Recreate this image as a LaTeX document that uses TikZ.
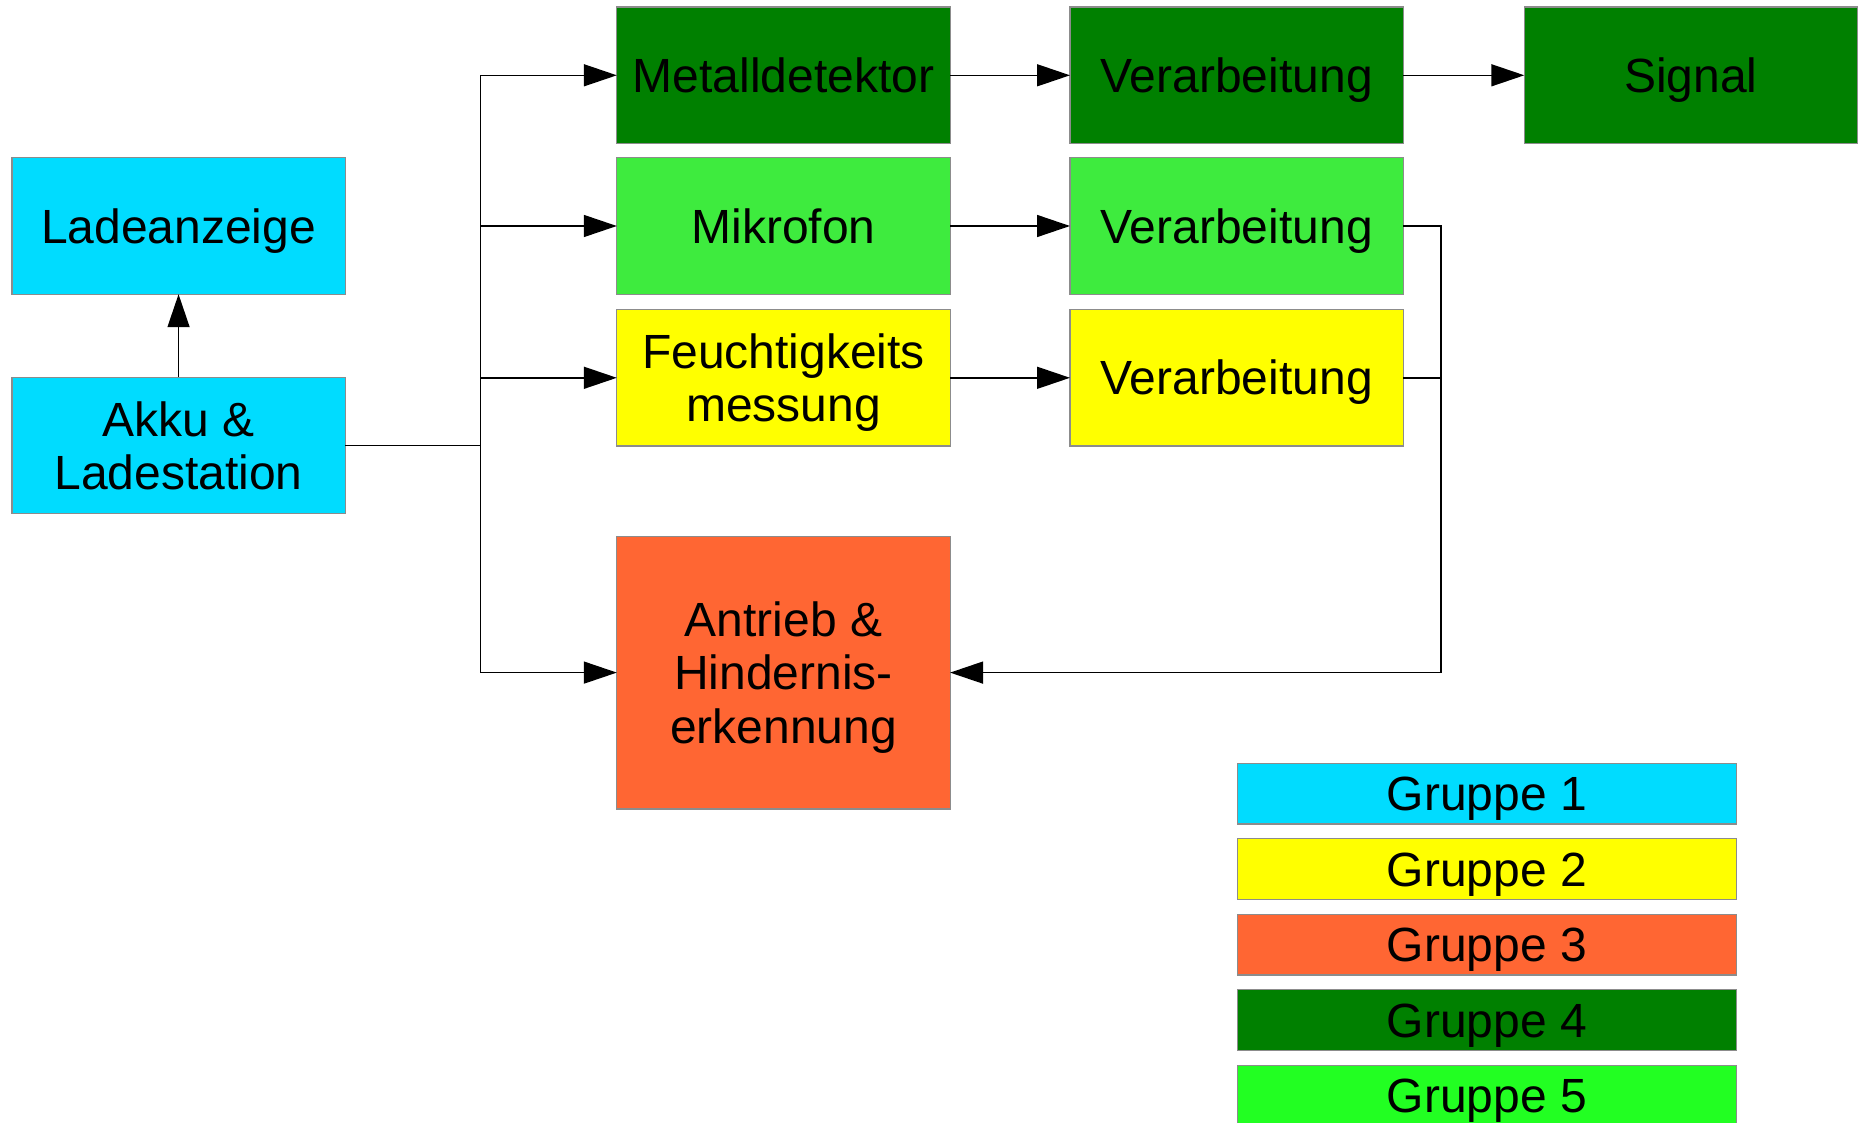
\documentclass[tikz,border=0pt]{standalone}
\usepackage{fontspec}
\setmainfont{Liberation Sans}
\usetikzlibrary{arrows.meta}
\definecolor{grpone}{RGB}{0,220,255}
\definecolor{grptwo}{RGB}{255,255,0}
\definecolor{grpthree}{RGB}{255,102,51}
\definecolor{grpfour}{RGB}{0,128,0}
\definecolor{grpfive}{RGB}{34,255,34}
\definecolor{mikgreen}{RGB}{62,235,62}
\definecolor{boxgray}{RGB}{140,140,140}
\newcommand{\lstrut}{\rule[-4.6pt]{0pt}{26.6pt}}
\newcommand{\boxfont}{\fontsize{24}{26.7}\selectfont\lineskiplimit=-100pt\relax}
\begin{document}
\begin{tikzpicture}[x=0.5pt,y=-0.5pt,
  box/.style={draw=boxgray, line width=0.6pt, minimum width=166.65pt, minimum height=68.2pt,
    inner sep=0pt, outer sep=0pt, align=center, font=\boxfont,
    execute at begin node={\lstrut}, execute at end node={\lstrut}},
  legendbox/.style={box, minimum width=249.7pt, minimum height=30.35pt},
  conn/.style={line width=0.75pt, draw=black},
  arr/.style={conn, -{Triangle[length=16.5pt,width=11pt]}}]
\useasboundingbox (0,0) rectangle (1860,1123);

% left column
\node[box, fill=grpone] (lade) at (178.55,226) {Ladeanzeige};
\node[box, fill=grpone] (akku) at (178.55,445.4) {\lstrut Akku \&\\Ladestation\lstrut};

% middle rows
\node[box, fill=grpfour] (met) at (783.45,75.3) {Metalldetektor};
\node[box, fill=grpfour] (vone) at (1236.65,75.3) {Verarbeitung};
\node[box, fill=grpfour] (sig) at (1690.95,75.3) {Signal};

\node[box, fill=mikgreen] (mik) at (783.45,226) {Mikrofon};
\node[box, fill=mikgreen] (vtwo) at (1236.65,226) {Verarbeitung};

\node[box, fill=grptwo] (feu) at (783.45,377.8) {\lstrut Feuchtigkeits\\messung\lstrut};
\node[box, fill=grptwo] (vthree) at (1236.65,377.8) {Verarbeitung};

\node[box, fill=grpthree, minimum height=136.4pt] (ant) at (783.45,672.6) {\lstrut Antrieb \&\\Hindernis-\\erkennung\lstrut};

% legend
\node[legendbox, fill=grpone] (gone) at (1487,793.7) {Gruppe 1};
\node[legendbox, fill=grptwo] (gtwo) at (1487,869.1) {Gruppe 2};
\node[legendbox, fill=grpthree] (gthree) at (1487,944.6) {Gruppe 3};
\node[legendbox, fill=grpfour] (gfour) at (1487,1020.1) {Gruppe 4};
\node[legendbox, fill=grpfive] (gfive) at (1487,1095.6) {Gruppe 5};

% connectors
\coordinate (bus) at (480.4,445.4);
\coordinate (fb) at (1441,672.6);

\draw[arr] (akku.north) -- (lade.south);
\draw[conn] (akku.east) -- (bus);
\draw[conn] (bus |- met.west) -- (bus |- ant.west);
\draw[arr] (bus |- met.west) -- (met.west);
\draw[arr] (bus |- mik.west) -- (mik.west);
\draw[arr] (bus |- feu.west) -- (feu.west);
\draw[arr] (bus |- ant.west) -- (ant.west);

\draw[arr] (met.east) -- (vone.west);
\draw[arr] (vone.east) -- (sig.west);
\draw[arr] (mik.east) -- (vtwo.west);
\draw[arr] (feu.east) -- (vthree.west);

\draw[arr] (vtwo.east) -| (fb) -- (ant.east);
\draw[conn] (vthree.east) -- (vthree.east -| fb);
\end{tikzpicture}
\end{document}
